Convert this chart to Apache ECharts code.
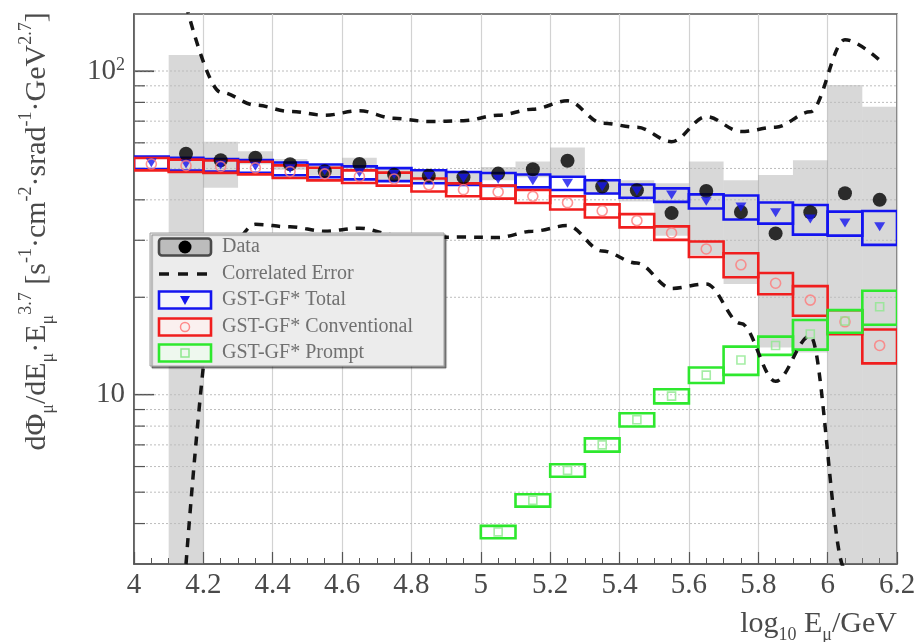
<!DOCTYPE html>
<html>
<head>
<meta charset="utf-8">
<title>Muon flux spectrum</title>
<script src="https://cdn.jsdelivr.net/npm/echarts/dist/echarts.min.js"></script>
<style>
html,body{margin:0;padding:0;background:#ffffff;}
#chart{width:918px;height:642px;}
</style>
</head>
<body>
<div id="chart"></div>
<script>
// ---------------- data ----------------
const xAxisMin = 4.0;
const xAxisMax = 6.2;
const xTickStep = 0.2;
const yAxisMin = 3;
const yAxisMax = 150;
const yMajorTicks = [10, 100];
const yMinorTicks = [4, 5, 6, 7, 8, 9, 20, 30, 40, 50, 60, 70, 80, 90];
const binHalfWidth = 0.05;

// model bins (GST-GF*)
const modelBinCenters = [4.05,4.15,4.25,4.35,4.45,4.55,4.65,4.75,4.85,4.95,5.05,5.15,5.25,5.35,5.45,5.55,5.65,5.75,5.85,5.95,6.05,6.15];
const totalFlux = [52.1,51.6,51.2,50.8,49.9,49.2,48.5,47.9,47.2,46.6,46.3,45.8,45.0,43.9,42.6,41.4,39.6,38.0,36.5,34.9,33.9,33.0];
const totalRelErr = [0.045,0.045,0.045,0.045,0.045,0.045,0.046,0.046,0.046,0.046,0.046,0.046,0.047,0.047,0.047,0.048,0.05,0.085,0.075,0.105,0.085,0.12];
const conventionalFlux = [51.6,51.0,50.7,50.2,48.9,48.1,47.2,46.4,44.5,43.0,42.3,41.0,39.2,37.0,34.5,31.6,28.2,25.2,22.1,19.6,16.8,14.2];
const conventionalRelErr = [0.044,0.044,0.044,0.045,0.045,0.045,0.045,0.046,0.046,0.046,0.046,0.046,0.047,0.047,0.047,0.048,0.055,0.085,0.075,0.105,0.085,0.12];
const promptBinCenters = [5.05,5.15,5.25,5.35,5.45,5.55,5.65,5.75,5.85,5.95,6.05,6.15];
const promptFlux = [3.77,4.72,5.84,7.0,8.37,9.9,11.5,12.8,14.2,15.4,16.9,18.7];
const promptRelErr = [0.044,0.044,0.044,0.047,0.047,0.05,0.055,0.1,0.065,0.105,0.08,0.12];

// measured data
const dataBinCenters = [4.15,4.25,4.35,4.45,4.55,4.65,4.75,4.85,4.95,5.05,5.15,5.25,5.35,5.45,5.55,5.65,5.75,5.85,5.95,6.05,6.15];
const dataFlux = [55.5,53.0,54.0,51.5,49.0,51.6,47.8,47.5,47.0,48.2,49.7,52.8,44.0,42.8,36.4,42.6,36.7,31.5,36.6,41.9,40.0];
const dataSysLow = [2.0,43.6,51.5,49.5,47.5,49.0,45.5,45.5,45.0,46.0,47.0,47.5,41.5,39.5,31.0,27.0,22.0,14.0,13.5,2.0,2.0];
const dataSysHigh = [112,60.5,56.5,53.5,51.0,54.0,50.0,49.5,49.0,50.5,52.5,58.0,46.5,46.0,45.0,52.5,46.0,47.7,53.0,90.5,77.6];

// correlated error band (dashed curves)
const corrUpper = [160,86,78.5,75.0,73.0,75.4,71.4,69.8,70.2,73.0,76.2,80.9,69.0,67.0,60.5,72.3,65.0,67.0,74.8,125,108];
const corrLower = [3.0,26.0,33.6,33.0,32.0,32.7,31.2,30.6,30.7,30.6,32.0,33.3,27.8,25.5,21.3,22.0,16.6,11.0,15.2,2.9,1.8];

const legendLabels = ['Data', 'Correlated Error', 'GST-GF* Total', 'GST-GF* Conventional', 'GST-GF* Prompt'];

// ---------------- styling ----------------
const SERIF = '"Liberation Serif", "DejaVu Serif", serif';
const BLUE = '#1414f0';
const RED = '#f01e1e';
const GREEN = '#2ee82e';
const AXIS_GRAY = '#555555';
const LABEL_GRAY = '#4a4a4a';

function clampY(cs, y) { return Math.min(cs.y + cs.height, Math.max(cs.y, y)); }

function boxSeries(name, centers, vals, errs, color, z) {
  return {
    name: name, type: 'custom', z: z, clip: true,
    data: centers.map((c, i) => [c - binHalfWidth, c + binHalfWidth, vals[i] * (1 - errs[i]), vals[i] * (1 + errs[i])]),
    renderItem: function (params, api) {
      const cs = params.coordSys;
      const a = api.coord([api.value(0), api.value(3)]);
      const b = api.coord([api.value(1), api.value(2)]);
      const y0 = clampY(cs, a[1]), y1 = clampY(cs, b[1]);
      return {
        type: 'rect',
        shape: { x: a[0], y: y0, width: b[0] - a[0], height: y1 - y0 },
        style: { fill: 'rgba(255,255,255,0)', stroke: color, lineWidth: 2.6 }
      };
    }
  };
}

const option = {
  backgroundColor: '#ffffff',
  animation: false,
  textStyle: { fontFamily: SERIF },
  grid: {
    left: 134, top: 14, right: 21, bottom: 78,
    show: true, borderColor: AXIS_GRAY, borderWidth: 1.5, backgroundColor: 'transparent',
    containLabel: false, outerBoundsMode: 'none'
  },
  xAxis: {
    type: 'value', min: xAxisMin, max: xAxisMax, interval: xTickStep,
    name: 'log{sub|10} E{sub|μ}/GeV',
    nameLocation: 'end', nameGap: 0, nameMoveOverlap: false,
    nameTextStyle: {
      fontFamily: SERIF, fontSize: 30, color: LABEL_GRAY, align: 'right', verticalAlign: 'top',
      lineHeight: 40, padding: [40, 0, 0, 0],
      rich: { sub: { fontSize: 18, lineHeight: 18, verticalAlign: 'bottom', fontFamily: SERIF, color: LABEL_GRAY } }
    },
    axisLine: { show: true, lineStyle: { color: AXIS_GRAY, width: 1.5 } },
    axisTick: { show: true, inside: true, length: 12, lineStyle: { color: AXIS_GRAY, width: 1.2 } },
    minorTick: { show: true, splitNumber: 4, length: 6, lineStyle: { color: AXIS_GRAY, width: 1 } },
    splitLine: { show: true, lineStyle: { color: '#d2d2d2', width: 1.2 } },
    axisLabel: { fontFamily: SERIF, fontSize: 29, color: LABEL_GRAY, margin: 7 }
  },
  yAxis: {
    type: 'log', logBase: 10, min: yAxisMin, max: yAxisMax,
    name: 'dΦ{sub|μ}/dE{sub|μ}·E{sub|μ}{sup|3.7} [s{sup|-1}·cm{sup|-2}·srad{sup|-1}·GeV{sup|2.7}]',
    nameLocation: 'middle', nameRotate: 90, nameGap: 77, nameMoveOverlap: false,
    nameTextStyle: {
      fontFamily: SERIF, fontSize: 30, color: LABEL_GRAY, lineHeight: 40, padding: [0, 0, 0, 115],
      rich: {
        sub: { fontSize: 18, lineHeight: 18, verticalAlign: 'bottom', fontFamily: SERIF, color: LABEL_GRAY },
        sup: { fontSize: 18, lineHeight: 18, verticalAlign: 'top', fontFamily: SERIF, color: LABEL_GRAY }
      }
    },
    axisLine: { show: true, lineStyle: { color: AXIS_GRAY, width: 1.5 } },
    axisTick: { show: true, inside: true, length: 20, lineStyle: { color: AXIS_GRAY, width: 1.2 } },
    splitLine: { show: false },
    axisLabel: {
      fontFamily: SERIF, fontSize: 29, color: LABEL_GRAY, margin: 9,
      showMinLabel: false, showMaxLabel: false,
      formatter: function (v) {
        if (Math.abs(v - yMajorTicks[1]) < 1e-6) return '10{sup|2}';
        if (Math.abs(v - yMajorTicks[0]) < 1e-6) return '10';
        return '';
      },
      rich: { sup: { fontSize: 18, lineHeight: 18, verticalAlign: 'top', fontFamily: SERIF, color: LABEL_GRAY } }
    }
  },
  series: [
    // data systematic uncertainty (gray boxes)
    {
      name: 'Data systematics', type: 'custom', z: 1,
      data: dataBinCenters.map((c, i) => [c - binHalfWidth, c + binHalfWidth, dataSysLow[i], dataSysHigh[i]]),
      renderItem: function (params, api) {
        const cs = params.coordSys;
        const a = api.coord([api.value(0), api.value(3)]);
        const b = api.coord([api.value(1), api.value(2)]);
        const y0 = clampY(cs, a[1]), y1 = clampY(cs, b[1]);
        return { type: 'rect', shape: { x: a[0], y: y0, width: b[0] - a[0], height: y1 - y0 },
                 style: { fill: 'rgba(140,140,140,0.34)' } };
      }
    },
    // horizontal log grid lines + minor/major ticks on the y axis
    {
      name: 'ygrid', type: 'custom', z: 2, silent: true,
      data: yMinorTicks.map(v => [xAxisMin, v, 0]).concat(yMajorTicks.map(v => [xAxisMin, v, 1])),
      renderItem: function (params, api) {
        const cs = params.coordSys;
        const p = api.coord([api.value(0), api.value(1)]);
        const major = api.value(2) === 1;
        return {
          type: 'group',
          children: [
            { type: 'line', shape: { x1: cs.x, y1: p[1], x2: cs.x + cs.width, y2: p[1] },
              style: { stroke: '#bdbdbd', lineWidth: 1, lineDash: [2, 2] } },
            { type: 'line', shape: { x1: cs.x, y1: p[1], x2: cs.x + (major ? 20 : 11), y2: p[1] },
              style: { stroke: AXIS_GRAY, lineWidth: 1.2 } }
          ]
        };
      }
    },
    boxSeries('GST-GF* Total', modelBinCenters, totalFlux, totalRelErr, BLUE, 4),
    boxSeries('GST-GF* Conventional', modelBinCenters, conventionalFlux, conventionalRelErr, RED, 4),
    boxSeries('GST-GF* Prompt', promptBinCenters, promptFlux, promptRelErr, GREEN, 4),
    {
      name: 'Correlated Error', type: 'line', z: 5, smooth: 0.35, smoothMonotone: 'x', symbol: 'none', clip: true,
      data: dataBinCenters.map((c, i) => [c, corrUpper[i]]),
      lineStyle: { color: '#151515', width: 3.5, type: [9, 8] }
    },
    {
      name: 'Correlated Error low', type: 'line', z: 5, smooth: 0.35, smoothMonotone: 'x', symbol: 'none', clip: true,
      data: dataBinCenters.map((c, i) => [c, corrLower[i]]),
      lineStyle: { color: '#151515', width: 3.5, type: [9, 8] }
    },
    {
      name: 'Data', type: 'scatter', z: 6, symbol: 'circle', symbolSize: 14,
      data: dataBinCenters.map((c, i) => [c, dataFlux[i]]),
      itemStyle: { color: '#000000' }
    },
    {
      name: 'Total marker', type: 'scatter', z: 7, symbol: 'triangle', symbolRotate: 180, symbolSize: [11, 9],
      data: modelBinCenters.map((c, i) => [c, totalFlux[i]]),
      itemStyle: { color: BLUE }
    },
    {
      name: 'Conventional marker', type: 'scatter', z: 7, symbol: 'circle', symbolSize: 10,
      data: modelBinCenters.map((c, i) => [c, conventionalFlux[i]]),
      itemStyle: { color: 'rgba(255,255,255,0)', borderColor: '#ff7a7a', borderWidth: 1.6 }
    },
    {
      name: 'Prompt marker', type: 'scatter', z: 7, symbol: 'rect', symbolSize: 8,
      data: promptBinCenters.map((c, i) => [c, promptFlux[i]]),
      itemStyle: { color: 'rgba(255,255,255,0)', borderColor: '#8fe88f', borderWidth: 1.6 }
    }
  ],
  graphic: buildLegend()
};

function buildLegend() {
  const rows = [247, 274, 300, 327, 353];
  const ix = 159, iw = 52, ih = 17, tx = 222;
  const els = [
    { type: 'rect', z: 100, shape: { x: 150, y: 233, width: 294, height: 133 },
      style: { fill: '#ececec', stroke: '#a0a0a0', lineWidth: 1,
               shadowColor: 'rgba(0,0,0,0.45)', shadowOffsetX: 2, shadowOffsetY: 2, shadowBlur: 1 } }
  ];
  // Data icon
  els.push({ type: 'rect', z: 101, shape: { x: ix, y: rows[0] - ih / 2, width: iw, height: ih, r: 3 },
             style: { fill: '#bcbcbc', stroke: '#4a4a4a', lineWidth: 2.6 } });
  els.push({ type: 'circle', z: 102, shape: { cx: ix + iw / 2, cy: rows[0], r: 6.5 }, style: { fill: '#000' } });
  // Correlated error icon
  els.push({ type: 'line', z: 101, shape: { x1: ix, y1: rows[1], x2: ix + iw, y2: rows[1] },
             style: { stroke: '#151515', lineWidth: 3.5, lineDash: [10, 9] } });
  // Total icon
  els.push({ type: 'rect', z: 101, shape: { x: ix, y: rows[2] - ih / 2, width: iw, height: ih },
             style: { fill: '#f4f4fa', stroke: BLUE, lineWidth: 2.6 } });
  els.push({ type: 'polygon', z: 102, shape: { points: [[ix + iw / 2 - 5, rows[2] - 4], [ix + iw / 2 + 5, rows[2] - 4], [ix + iw / 2, rows[2] + 5]] },
             style: { fill: BLUE } });
  // Conventional icon
  els.push({ type: 'rect', z: 101, shape: { x: ix, y: rows[3] - ih / 2, width: iw, height: ih },
             style: { fill: '#faf0ef', stroke: RED, lineWidth: 2.6 } });
  els.push({ type: 'circle', z: 102, shape: { cx: ix + iw / 2, cy: rows[3], r: 4.5 },
             style: { fill: 'none', stroke: '#ff8a8a', lineWidth: 1.5 } });
  // Prompt icon
  els.push({ type: 'rect', z: 101, shape: { x: ix, y: rows[4] - ih / 2, width: iw, height: ih },
             style: { fill: '#eef8ee', stroke: GREEN, lineWidth: 2.6 } });
  els.push({ type: 'rect', z: 102, shape: { x: ix + iw / 2 - 4, y: rows[4] - 4, width: 8, height: 8 },
             style: { fill: 'none', stroke: '#8fe88f', lineWidth: 1.5 } });
  legendLabels.forEach((t, i) => {
    els.push({ type: 'text', z: 103, x: tx, y: rows[i],
               style: { text: t, fill: '#707070', font: '20px ' + SERIF,
                        align: 'left', verticalAlign: 'middle', textAlign: 'left', textVerticalAlign: 'middle' } });
  });
  return els;
}

const chart = echarts.init(document.getElementById('chart'), null, { renderer: 'canvas', width: 918, height: 642 });
chart.setOption(option);
</script>
</body>
</html>
